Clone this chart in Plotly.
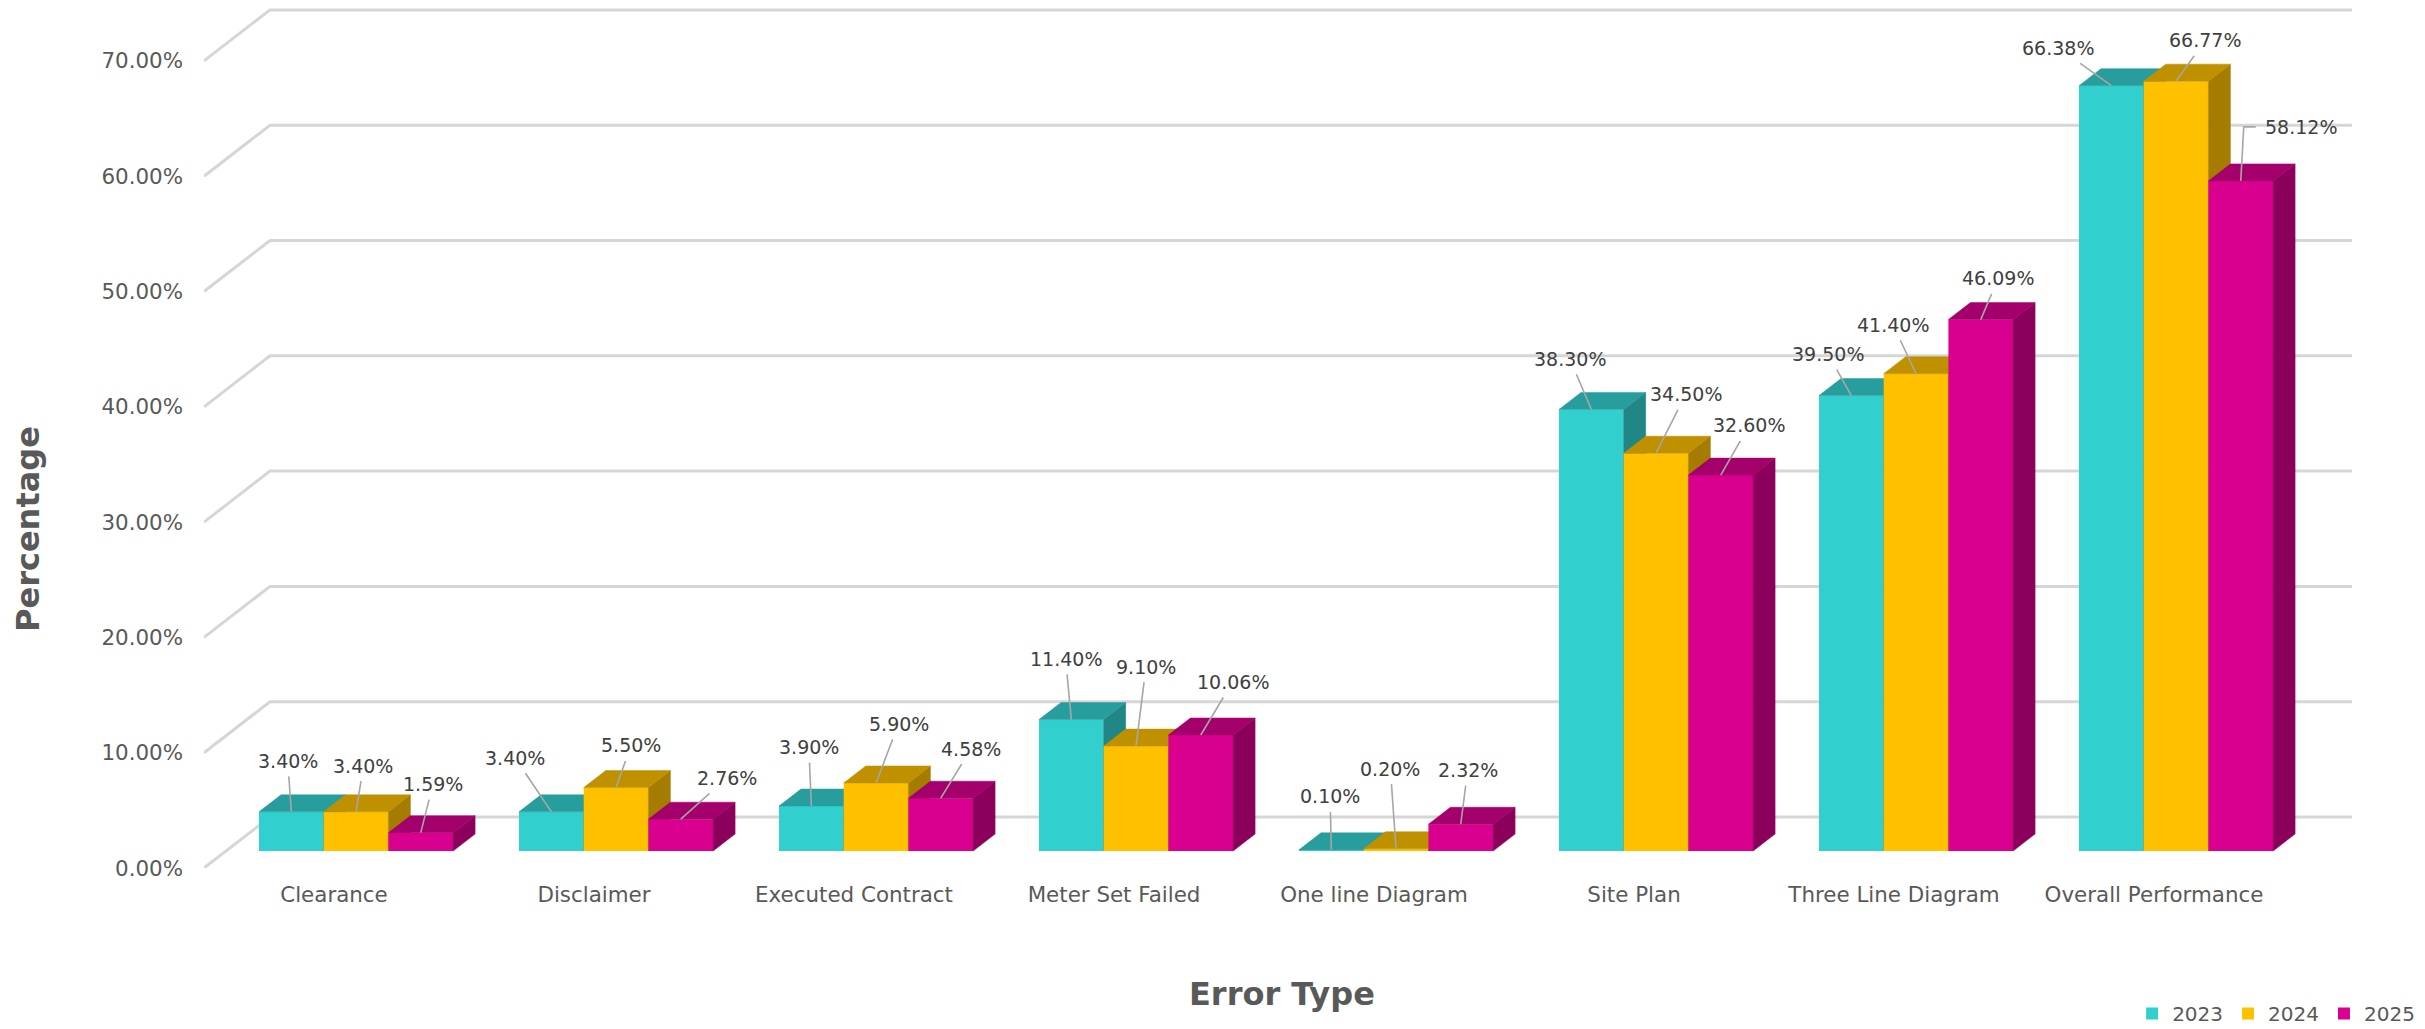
import plotly.graph_objects as go

# ---------- data ----------
categories = ["Clearance", "Disclaimer", "Executed Contract", "Meter Set Failed",
              "One line Diagram", "Site Plan", "Three Line Diagram", "Overall Performance"]
values_2023 = [3.40, 3.40, 3.90, 11.40, 0.10, 38.30, 39.50, 66.38]
values_2024 = [3.40, 5.50, 5.90, 9.10, 0.20, 34.50, 41.40, 66.77]
values_2025 = [1.59, 2.76, 4.58, 10.06, 2.32, 32.60, 46.09, 58.12]
years = ["2023", "2024", "2025"]
y_ticks = [0, 10, 20, 30, 40, 50, 60, 70]

# ---------- styles ----------
front_colors = ["#32CFCF", "#FFC000", "#D9008F"]
top_colors = ["#279D9D", "#BF9000", "#A3006B"]
side_colors = ["#208686", "#A67C00", "#8A005B"]
FONT = "DejaVu Sans"

# ---------- geometry: pixel sizes of the plot, converted to axis units ----------
W, H = 2425, 1029
PLOT_L, PLOT_R, PLOT_T, PLOT_B = 204, 2400, 0, 868
PX_PER_CAT = 260.0
PX_PER_PCT = 11.53
x_range = [0, (PLOT_R - PLOT_L) / PX_PER_CAT]
y_range = [0, (PLOT_B - PLOT_T) / PX_PER_PCT]
WALL_DX, WALL_DY = 66 / PX_PER_CAT, 51 / PX_PER_PCT      # depth of the floor
BAR_DX, BAR_DY = WALL_DX / 3, WALL_DY / 3                # depth of a bar
BAR_W = 64.7 / PX_PER_CAT
GROUP_START = BAR_DX + 33 / PX_PER_CAT

# label centres, in pixels of the reference picture (display-scale 1.5465)
SCALE = 2425 / 1568
label_pos = [
    [(186, 492), (235, 495), (280, 507)],
    [(333, 490), (408, 482), (470, 503)],
    [(523, 483), (581, 468), (628, 484)],
    [(689, 426), (741, 431), (797, 441)],
    [(860, 515), (899, 497), (949, 498)],
    [(1015, 232), (1090, 255), (1131, 275)],
    [(1182, 229), (1224, 210), (1292, 180)],
    [(1331, 31), (1426, 26), (1488, 82)],
]


def px_x(x):
    return PLOT_L + x * PX_PER_CAT


def px_y(y):
    return PLOT_B - y * PX_PER_PCT


fig = go.Figure()

# back-wall gridlines with their floor diagonals
gx, gy = [], []
for t in y_ticks:
    gx += [0, WALL_DX, WALL_DX + len(categories) + 2 / PX_PER_CAT, None]
    gy += [t, t + WALL_DY, t + WALL_DY, None]
fig.add_trace(go.Scatter(x=gx, y=gy, mode="lines", showlegend=False, hoverinfo="skip",
                         line=dict(color="#D6D6D6", width=3), cliponaxis=False))

annotations = []
series = [values_2023, values_2024, values_2025]
for s, vals in enumerate(series):
    xa_name = f"x{s + 2}"
    ya_name = f"y{s + 2}"
    centers = [GROUP_START + i + BAR_W * (s + 0.5) for i in range(len(categories))]
    tx, ty, sx, sy = [], [], [], []
    for c, v in zip(centers, vals):
        xl, xr = c - BAR_W / 2, c + BAR_W / 2
        top = BAR_DY + v
        tx += [xl, xl + BAR_DX, xr + BAR_DX, xr, xl, None]
        ty += [top, top + BAR_DY, top + BAR_DY, top, top, None]
        sx += [xr, xr + BAR_DX, xr + BAR_DX, xr, xr, None]
        sy += [BAR_DY, BAR_DY * 2, top + BAR_DY, top, BAR_DY, None]
    fig.add_trace(go.Bar(x=centers, y=vals, base=[BAR_DY] * len(vals), width=BAR_W, name=years[s],
                         marker=dict(color=front_colors[s], line=dict(width=0)),
                         xaxis=xa_name, yaxis=ya_name,
                         customdata=categories,
                         hovertemplate="%{customdata}<br>%{y:.2f}%<extra>" + years[s] + "</extra>"))
    fig.add_trace(go.Scatter(x=sx, y=sy, mode="lines", fill="toself", fillcolor=side_colors[s],
                             line=dict(color=side_colors[s], width=0.5), showlegend=False,
                             hoverinfo="skip", xaxis=xa_name, yaxis=ya_name))
    fig.add_trace(go.Scatter(x=tx, y=ty, mode="lines", fill="toself", fillcolor=top_colors[s],
                             line=dict(color=top_colors[s], width=0.5), showlegend=False,
                             hoverinfo="skip", xaxis=xa_name, yaxis=ya_name))
    for i, (c, v) in enumerate(zip(centers, vals)):
        ox, oy = label_pos[i][s]
        lx, ly = ox * SCALE, oy * SCALE
        ay_val = BAR_DY + v
        dx, dy = lx - px_x(c), ly - px_y(ay_val)
        elbow = (i == 7 and s == 2)
        ann = dict(x=c, y=ay_val, xref=xa_name, yref=ya_name, text=f"{v:.2f}%",
                   font=dict(family=FONT, size=19, color="#404040"))
        if elbow:
            ann.update(showarrow=False, xanchor="center", yanchor="middle", xshift=dx, yshift=-dy)
        else:
            ann.update(showarrow=True, arrowhead=0, arrowwidth=1.6, arrowcolor="#A6A6A6",
                       ax=dx, ay=dy, standoff=0, borderpad=4)
        annotations.append(ann)

# the one elbowed leader line (Overall Performance, 2025)
c_last = GROUP_START + 7 + BAR_W * 2.5
v_last = values_2025[7]
fig.add_trace(go.Scatter(
    x=[c_last, c_last + 3 / PX_PER_CAT, c_last + 15 / PX_PER_CAT],
    y=[BAR_DY + v_last, BAR_DY + v_last + 54 / PX_PER_PCT, BAR_DY + v_last + 54 / PX_PER_PCT],
    mode="lines", line=dict(color="#A6A6A6", width=1.6), showlegend=False, hoverinfo="skip",
    xaxis="x4", yaxis="y4", cliponaxis=False))

# axis titles
annotations.append(dict(x=1282 / W, y=1 - 994 / H, xref="paper", yref="paper", showarrow=False,
                        text="<b>Error Type</b>", xanchor="center", yanchor="middle",
                        font=dict(family=FONT, size=32, color="#595959")))
annotations.append(dict(x=28 / W, y=1 - 529 / H, xref="paper", yref="paper", showarrow=False,
                        text="<b>Percentage</b>", textangle=-90, xanchor="center", yanchor="middle",
                        font=dict(family=FONT, size=32, color="#595959")))

dom_x = [PLOT_L / W, PLOT_R / W]
dom_y = [1 - PLOT_B / H, 1 - PLOT_T / H]
layout_axes = {}
for n in (2, 3, 4):
    layout_axes[f"xaxis{n}"] = dict(domain=dom_x, range=x_range, overlaying="x", anchor=f"y{n}", visible=False,
                                    fixedrange=True)
    layout_axes[f"yaxis{n}"] = dict(domain=dom_y, range=y_range, overlaying="y", anchor=f"x{n}", visible=False,
                                    fixedrange=True)

fig.update_layout(
    width=W, height=H, autosize=False,
    margin=dict(l=0, r=0, t=0, b=0, autoexpand=False),
    paper_bgcolor="white", plot_bgcolor="rgba(0,0,0,0)",
    barmode="overlay",
    font=dict(family=FONT, size=21, color="#595959"),
    xaxis=dict(domain=dom_x, range=x_range, tickmode="array",
               tickvals=[i + 0.5 for i in range(len(categories))], ticktext=categories,
               showgrid=False, zeroline=False, showline=False, ticks="", ticklabelstandoff=12,
               tickfont=dict(family=FONT, size=21.4, color="#595959"), fixedrange=True),
    yaxis=dict(domain=dom_y, range=y_range, tickmode="array", tickvals=y_ticks,
               ticktext=[f"{t:.2f}%" for t in y_ticks],
               showgrid=False, zeroline=False, showline=False, ticks="", ticklabelstandoff=20,
               tickfont=dict(family=FONT, size=21.4, color="#595959"), fixedrange=True),
    legend=dict(orientation="h", x=0.998, xanchor="right", y=-0.004, yanchor="bottom",
                font=dict(family=FONT, size=20, color="#595959"), bgcolor="rgba(0,0,0,0)",
                itemclick=False, itemdoubleclick=False),
    annotations=annotations,
    **layout_axes,
)

fig.write_html("out.html", config={"displayModeBar": False},
               post_script="document.body.style.margin='0';document.body.style.overflow='hidden';")
